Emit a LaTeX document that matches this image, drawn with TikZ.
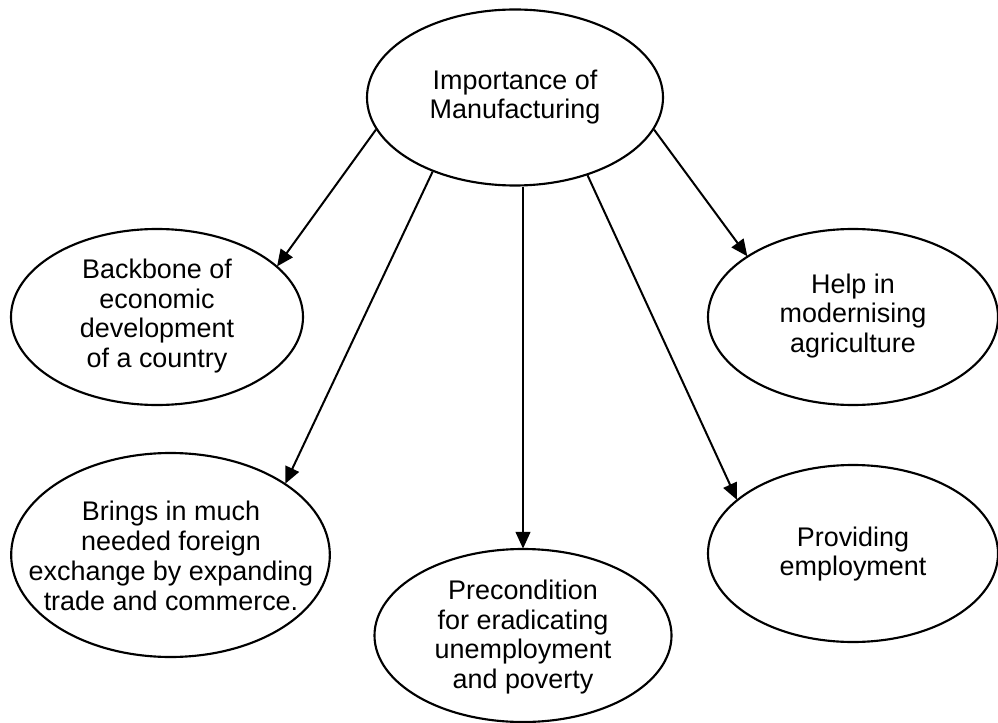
\documentclass[tikz,border=0pt]{standalone}
\usepackage{fontspec}
\setmainfont{Liberation Sans}
\usetikzlibrary{shapes.geometric,arrows.meta}
\begin{document}
\begin{tikzpicture}[x=0.75pt,y=-0.75pt,
  ell/.style={draw,ellipse,line width=1.6pt,inner sep=0pt},
  lbl/.style={align=center,font=\fontsize{20.2pt}{22.4pt}\selectfont,inner sep=0pt},
  arr/.style={line width=1.5pt,-{Triangle[length=12.5pt,width=11pt]},shorten >=-0.5pt}]
\useasboundingbox (0,0) rectangle (998,723);
\node[ell,minimum width=222pt,minimum height=132pt] (top) at (515,97.5) {};
\node[lbl] (ttop) at (515,97) {Importance of\\Manufacturing};
\node[ell,minimum width=219pt,minimum height=132pt] (back) at (157,317) {};
\node[lbl] (tback) at (157,316) {Backbone of\\economic\\development\\of a country};
\node[ell,minimum width=217.5pt,minimum height=132pt] (help) at (853,317) {};
\node[lbl] (thelp) at (853,316) {Help in\\modernising\\agriculture};
\node[ell,minimum width=239pt,minimum height=153pt] (brings) at (170.5,555) {};
\node[lbl] (tbrings) at (171,556) {Brings in much\\needed foreign\\exchange by expanding\\trade and commerce.};
\node[ell,minimum width=222.75pt,minimum height=129.75pt] (mid) at (523,635.5) {};
\node[lbl] (tmid) at (523,637) {Precondition\\for eradicating\\unemployment\\and poverty};
\node[ell,minimum width=217.5pt,minimum height=132.75pt] (prov) at (853,553.5) {};
\node[lbl] (tprov) at (853,554) {Providing\\employment};
\draw[arr] (top.193.4) -- (back.23.4);
\draw[arr] (top.222.8) -- (brings.32.2);
\draw[arr] (top.south -| mid.north) -- (mid.north);
\draw[arr] (top.313.9) -- (prov.155.7);
\draw[arr] (top.347.4) -- (help.150.9);
\end{tikzpicture}
\end{document}
